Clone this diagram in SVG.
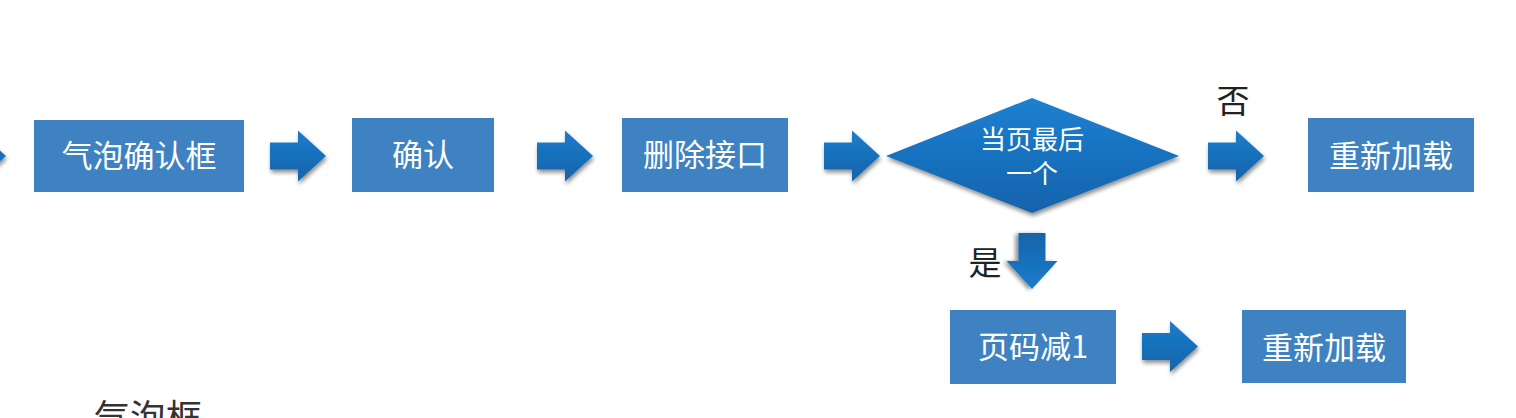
<svg xmlns="http://www.w3.org/2000/svg" width="1516" height="418" viewBox="0 0 1516 418">
<defs>
<style>
.box{fill:#3e82c2;}
.bt{fill:#ffffff;font-family:"Noto Sans CJK SC","Noto Sans",sans-serif;font-size:31px;text-anchor:middle;dominant-baseline:central;}
.dt{fill:#ffffff;font-family:"Noto Sans CJK SC","Noto Sans",sans-serif;font-size:26px;text-anchor:middle;dominant-baseline:central;}
.lbl{fill:#222222;font-family:"Noto Sans CJK SC","Noto Sans",sans-serif;font-size:33px;text-anchor:middle;dominant-baseline:central;}
.cap{fill:#333333;font-family:"Noto Sans CJK SC","Noto Sans",sans-serif;font-size:36px;}
</style>
<linearGradient id="ag" x1="0" y1="0" x2="0" y2="1">
<stop offset="0" stop-color="#1c7ccc"/>
<stop offset="1" stop-color="#1464aa"/>
</linearGradient>
<linearGradient id="agd" x1="0" y1="0" x2="1" y2="0">
<stop offset="0" stop-color="#1464aa"/>
<stop offset="1" stop-color="#1c7ccc"/>
</linearGradient>
<linearGradient id="dg" x1="0" y1="0" x2="0" y2="1">
<stop offset="0" stop-color="#1c80d2"/>
<stop offset="1" stop-color="#1563ab"/>
</linearGradient>
<filter id="sh" x="-20%" y="-20%" width="150%" height="160%">
<feGaussianBlur in="SourceAlpha" stdDeviation="2"/>
<feOffset dx="1" dy="3" result="b"/>
<feComponentTransfer><feFuncA type="linear" slope="0.45"/></feComponentTransfer>
<feMerge><feMergeNode/><feMergeNode in="SourceGraphic"/></feMerge>
</filter>
<path id="arr" d="M0,-13.5 H28 V-25.5 L56,0 L28,25.5 V13.5 H0 Z"/>
</defs>
<g id="connectors">
<use href="#arr" transform="translate(-50,156)" fill="url(#ag)" filter="url(#sh)"/>
<use href="#arr" transform="translate(270,156)" fill="url(#ag)" filter="url(#sh)"/>
<use href="#arr" transform="translate(537,156)" fill="url(#ag)" filter="url(#sh)"/>
<use href="#arr" transform="translate(824,156)" fill="url(#ag)" filter="url(#sh)"/>
<use href="#arr" transform="translate(1208,156)" fill="url(#ag)" filter="url(#sh)"/>
<use href="#arr" transform="translate(1032,233) rotate(90)" fill="url(#agd)" filter="url(#sh)"/>
<use href="#arr" transform="translate(1142,346.5)" fill="url(#ag)" filter="url(#sh)"/>
<text class="lbl" x="1233" y="98.5">否</text>
<text class="lbl" x="985" y="261">是</text>
</g>
<g id="n1">
<rect class="box" x="34" y="120" width="210" height="72"/>
<text class="bt" x="139" y="153">气泡确认框</text>
</g>
<g id="n2">
<rect class="box" x="352" y="118" width="142" height="74"/>
<text class="bt" x="423" y="152">确认</text>
</g>
<g id="n3">
<rect class="box" x="622" y="118" width="166" height="74"/>
<text class="bt" x="705" y="152.5">删除接口</text>
</g>
<g id="n4">
<polygon points="886,156 1032,98 1179,156 1032,213" fill="url(#dg)" filter="url(#sh)"/>
<text class="dt" x="1032" y="137.5">当页最后<tspan x="1032" dy="33">一个</tspan></text>
</g>
<g id="n5">
<rect class="box" x="1308" y="118" width="166" height="74"/>
<text class="bt" x="1391" y="153">重新加载</text>
</g>
<g id="n6">
<rect class="box" x="950" y="310" width="166" height="74"/>
<text class="bt" x="1033" y="344">页码减1</text>
</g>
<g id="n7">
<rect class="box" x="1242" y="310" width="164" height="73"/>
<text class="bt" x="1324" y="345">重新加载</text>
</g>
<text class="cap" x="94" y="431">气泡框</text>
</svg>
